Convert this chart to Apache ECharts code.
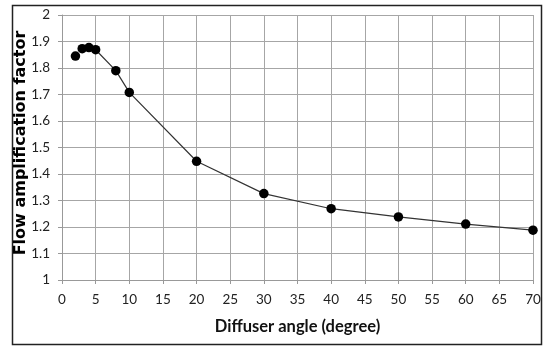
<!DOCTYPE html>
<html>
<head>
<meta charset="utf-8">
<script src="https://cdn.jsdelivr.net/npm/echarts@6/dist/echarts.min.js"></script>
<style>
  html, body { margin: 0; padding: 0; background: #fff; }
  #chart { width: 544px; height: 346px; }
</style>
</head>
<body>
<div id="chart"></div>
<script>
// Diffuser angle (degrees) and measured flow amplification factor
const angles  = [2, 3, 4, 5, 8, 10, 20, 30, 40, 50, 60, 70];
const factors = [1.845, 1.873, 1.877, 1.869, 1.79, 1.708, 1.448, 1.326, 1.269, 1.238, 1.211, 1.188];
// The connecting curve starts at 5 degrees
const lineStartIndex = 3;

const points = angles.map((a, i) => [a, factors[i]]);
const curve = points.slice(lineStartIndex);

const chart = echarts.init(document.getElementById('chart'), null, { renderer: 'canvas' });
const labelFont = 'Lato, "Open Sans", sans-serif';

chart.setOption({
  animation: false,
  backgroundColor: '#fff',
  grid: { left: 62, right: 11, top: 15, bottom: 66 },
  graphic: [
    {
      type: 'rect',
      shape: { x: 12.5, y: 5.5, width: 529, height: 339 },
      style: { fill: 'none', stroke: '#222', lineWidth: 1.5 },
      z: 100
    },
    {
      // vertical axis title
      type: 'text',
      x: 21, y: 143,
      rotation: Math.PI / 2,
      style: {
        text: 'Flow amplification factor',
        fontFamily: '"DejaVu Sans", Verdana, sans-serif',
        fontSize: 16, fontWeight: 'bold', fill: '#000',
        align: 'center', verticalAlign: 'middle'
      },
      z: 100
    }
  ],
  xAxis: {
    type: 'value', min: 0, max: 70, interval: 5,
    name: 'Diffuser angle (degree)',
    nameLocation: 'middle', nameGap: 38,
    nameTextStyle: { fontFamily: labelFont, fontSize: 16.5, fontWeight: 'bold', color: '#111' },
    axisLine: { show: true, lineStyle: { color: '#999', width: 1 } },
    axisTick: { show: true, length: 4, lineStyle: { color: '#999' } },
    axisLabel: { fontFamily: labelFont, fontSize: 13.5, color: '#222', margin: 13 },
    splitLine: { show: true, lineStyle: { color: '#a6a6a6', width: 1 } }
  },
  yAxis: {
    type: 'value', min: 1, max: 2, interval: 0.1,
    axisLine: { show: true, lineStyle: { color: '#999', width: 1 } },
    axisTick: { show: true, length: 4, lineStyle: { color: '#999' } },
    axisLabel: {
      fontFamily: labelFont, fontSize: 13.5, color: '#222', margin: 12,
      formatter: v => String(+v.toFixed(1))
    },
    splitLine: { show: true, lineStyle: { color: '#a6a6a6', width: 1 } }
  },
  series: [
    {
      type: 'line',
      data: curve,
      showSymbol: false,
      lineStyle: { color: '#333', width: 1.2 },
      z: 2
    },
    {
      type: 'scatter',
      data: points,
      symbol: 'circle',
      symbolSize: 9.5,
      itemStyle: { color: '#000', opacity: 1 },
      z: 3
    }
  ]
});
</script>
</body>
</html>
